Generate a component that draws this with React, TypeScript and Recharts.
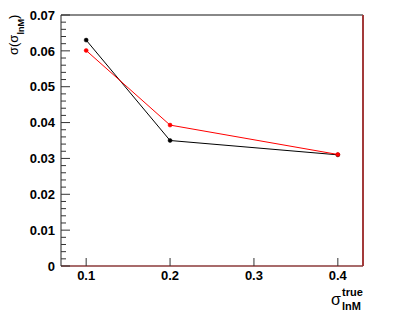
import React from "react";
import { LineChart, Line, XAxis, YAxis, ReferenceLine } from "recharts";

// sigma_lnM true values on x
const xValues = [0.1, 0.2, 0.4];
const blackValues = [0.063, 0.035, 0.031];
const redValues = [0.0601, 0.0393, 0.0311];

const xTicks = [0.1, 0.2, 0.3, 0.4];
const yMajorTicks = [0, 0.01, 0.02, 0.03, 0.04, 0.05, 0.06, 0.07];
const yTickLabels = ["0", "0.01", "0.02", "0.03", "0.04", "0.05", "0.06", "0.07"];

// 5 subdivisions between major ticks
const yTicks: number[] = [];
yMajorTicks.forEach((v, i) => {
  yTicks.push(v);
  if (i < yMajorTicks.length - 1) {
    for (let k = 1; k < 5; k++) yTicks.push(+(v + k * 0.002).toFixed(4));
  }
});

const data = xValues.map((x, i) => ({ x, black: blackValues[i], red: redValues[i] }));

const FONT = "'Liberation Sans', Arial, Helvetica, sans-serif";
const TICK_COLOR = "#333";

const YTick = (props: any) => {
  const { x, y, payload } = props;
  const idx = yMajorTicks.findIndex(m => Math.abs(m - payload.value) < 1e-6);
  const major = idx >= 0;
  return (
    <g>
      <line x1={x} x2={x + (major ? 9 : 5)} y1={y} y2={y} stroke={TICK_COLOR} strokeWidth={1} />
      {major && (
        <text x={x - 6} y={y + 4.7} textAnchor="end" fontFamily={FONT} fontWeight="bold" fontSize={13} fill="#000">
          {yTickLabels[idx]}
        </text>
      )}
    </g>
  );
};

const XTick = (props: any) => {
  const { x, y, payload } = props;
  return (
    <g>
      <line x1={x} x2={x} y1={y} y2={y - 8} stroke={TICK_COLOR} strokeWidth={1} />
      <text x={x} y={y + 13.5} textAnchor="middle" fontFamily={FONT} fontWeight="bold" fontSize={13} fill="#000">
        {payload.value}
      </text>
    </g>
  );
};

const XTitle = () => (
  <g fontFamily={FONT} fill="#000">
    <text x={331} y={305} fontSize={16}>σ</text>
    <text x={342} y={296} fontSize={11} fontWeight="bold">true</text>
    <text x={342} y={310} fontSize={11} fontWeight="bold">lnM</text>
  </g>
);

const YTitle = () => (
  <g fontFamily={FONT} fill="#000" transform="rotate(-90)">
    <text x={-55} y={17.5} fontSize={13}>
      σ(σ
      <tspan dy={6.5} fontSize={9} fontWeight="bold">lnM</tspan>
      <tspan dy={-6.5} fontSize={13}>)</tspan>
    </text>
  </g>
);

const App = () => (
  <div style={{ position: "absolute", left: 0, top: 0, width: 394, height: 313, background: "#fff" }}>
    <LineChart width={394} height={313} data={data} margin={{ top: 15, right: 31, bottom: 0, left: 0 }}>
      <XAxis
        type="number"
        dataKey="x"
        domain={[0.07, 0.43]}
        ticks={xTicks}
        interval={0}
        height={47}
        tickSize={0}
        tickMargin={0}
        tickLine={false}
        axisLine={{ stroke: "#8b3a3a", strokeWidth: 1.5 }}
        tick={<XTick />}
        label={{ content: <XTitle /> }}
      />
      <YAxis
        type="number"
        domain={[0, 0.07]}
        ticks={yTicks}
        interval={0}
        width={61}
        tickSize={0}
        tickMargin={0}
        tickLine={false}
        axisLine={{ stroke: "#222", strokeWidth: 1 }}
        tick={<YTick />}
        label={{ content: <YTitle /> }}
      />
      <ReferenceLine y={0.07} stroke="#888" strokeWidth={2} />
      <ReferenceLine x={0.43} stroke="#a33a3a" strokeWidth={2} />
      <Line
        dataKey="black"
        stroke="#000"
        strokeWidth={1}
        dot={{ r: 2, fill: "#000", stroke: "#000", strokeWidth: 0.5 }}
        isAnimationActive={false}
      />
      <Line
        dataKey="red"
        stroke="#ff0000"
        strokeWidth={1}
        dot={{ r: 2, fill: "#ff0000", stroke: "#ff0000", strokeWidth: 0.5 }}
        isAnimationActive={false}
      />
    </LineChart>
  </div>
);

export default App;
